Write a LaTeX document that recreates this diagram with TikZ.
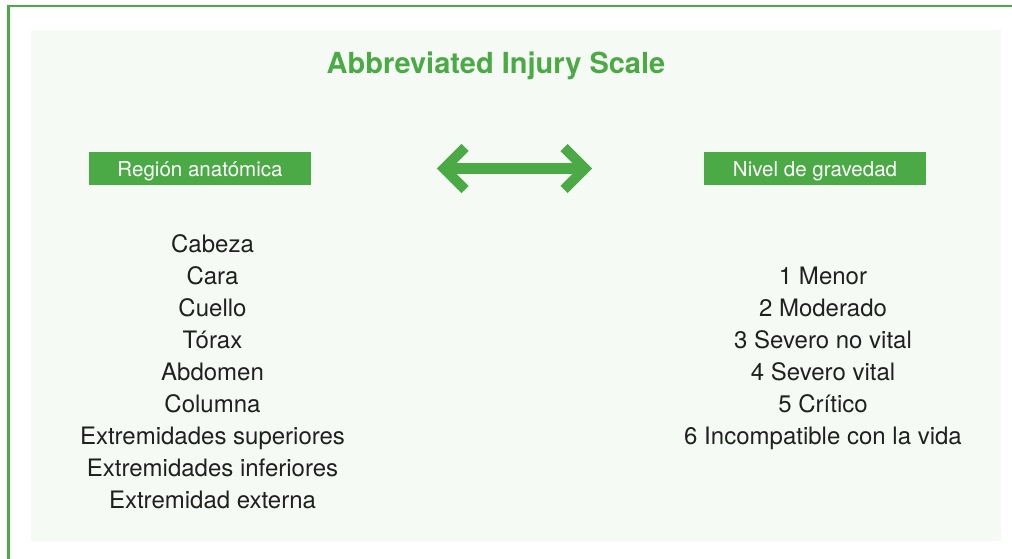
\documentclass[tikz,border=0pt]{standalone}
\usepackage{fontspec}
\usetikzlibrary{calc}
\setmainfont{TeX Gyre Heros}
\setsansfont{TeX Gyre Heros}
\definecolor{aisgreen}{HTML}{4BAA46}
\definecolor{panelbg}{HTML}{F5FAF4}
\definecolor{bodytext}{HTML}{202020}
\begin{document}
\begin{tikzpicture}[x=0.75pt,y=-0.75pt,
  titletext/.style={anchor=base,font=\fontsize{21.75pt}{26pt}\selectfont\bfseries,text=aisgreen,inner sep=0pt},
  headbox/.style={fill=aisgreen,text=white,inner sep=0pt,minimum width=166.5pt,minimum height=24.75pt,
    text height=12.3pt,text depth=0pt,font=\fontsize{15.4pt}{18pt}\selectfont},
  item/.style={anchor=base,font=\fontsize{18pt}{22pt}\selectfont,text=bodytext,inner sep=0pt},
  arrowline/.style={draw=aisgreen,line width=8.25pt},
  arrowhead/.style={draw=aisgreen,line width=7.5pt,miter limit=4}]
  \useasboundingbox (0,0) rectangle (1012,558);
  % light panel
  \fill[panelbg] (31,30) rectangle (1001,541);
  % outer frame, open to the right and bottom
  \draw[aisgreen,line width=1.6pt] (8.5,560) -- (8.5,6) -- (1014,6);

  % title
  \node[titletext] (title) at (496,73) {Abbreviated Injury Scale};

  % column headings
  \node[headbox] (region) at (200,168.5) {Región anatómica};
  \node[headbox] (nivel) at (815,168.5) {Nivel de gravedad};

  % double arrow between the headings
  \coordinate (arrL) at (444,168.5);
  \coordinate (arrR) at (585,168.5);
  \draw[arrowline] (arrL) -- (arrR);
  \draw[arrowhead] ($(arrL)+(21,-21)$) -- (arrL) -- ($(arrL)+(21,21)$);
  \draw[arrowhead] ($(arrR)+(-21,-21)$) -- (arrR) -- ($(arrR)+(-21,21)$);

  % anatomical regions
  \node[item] (r1) at (212.5,252) {Cabeza};
  \node[item] (r2) at (212.5,284) {Cara};
  \node[item] (r3) at (212.5,316) {Cuello};
  \node[item] (r4) at (212.5,348) {Tórax};
  \node[item] (r5) at (212.5,380) {Abdomen};
  \node[item] (r6) at (212.5,412) {Columna};
  \node[item] (r7) at (212.5,444) {Extremidades superiores};
  \node[item] (r8) at (212.5,476) {Extremidades inferiores};
  \node[item] (r9) at (212.5,508) {Extremidad externa};

  % severity levels
  \node[item] (s1) at (823,284) {1 Menor};
  \node[item] (s2) at (823,316) {2 Moderado};
  \node[item] (s3) at (823,348) {3 Severo no vital};
  \node[item] (s4) at (823,380) {4 Severo vital};
  \node[item] (s5) at (823,412) {5 Crítico};
  \node[item] (s6) at (823,444) {6 Incompatible con la vida};
\end{tikzpicture}
\end{document}
